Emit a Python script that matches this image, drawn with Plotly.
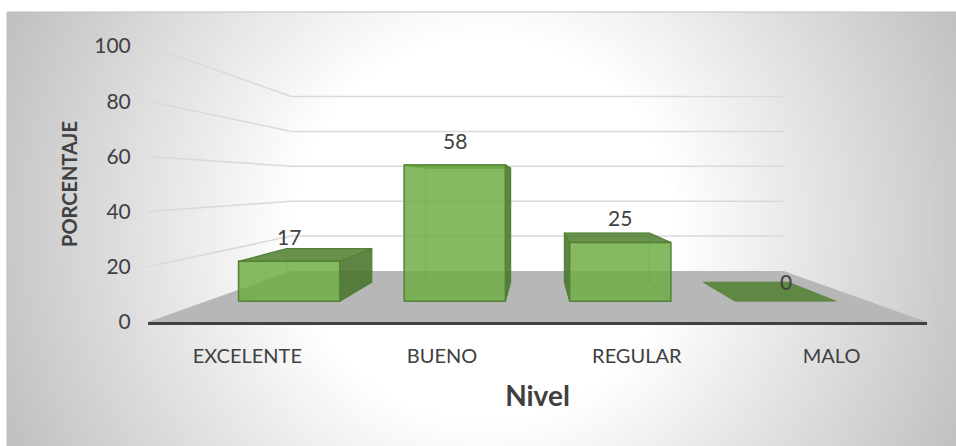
import base64, struct, zlib
import numpy as np
import plotly.graph_objects as go

categories = ["EXCELENTE", "BUENO", "REGULAR", "MALO"]
values = [17, 58, 25, 0]
y_ticks = [0, 20, 40, 60, 80, 100]

WIDTH, HEIGHT = 956, 446
FONT = "Lato"
TEXT = "#404040"
L, R, T, B = 148, 29, 46, 124
PW, PH = WIDTH - L - R, HEIGHT - T - B

# perspective depth: scale of a plane relative to the front edge of the floor
S_FRONT, S_BAR_FRONT, S_BAR_BACK, S_BACK = 1.0, 0.85, 0.713, 0.632
FLOOR_RISE = 18.5   # height of the floor's far edge, in value units
BAR_HALF = 0.306


def project(c, v, s):
    """Category position c, value v, depth scale s -> axis coordinates."""
    rise = (1 - s) / (1 - S_BACK) * FLOOR_RISE
    return 2 + (c - 2) * s, v * s + rise


def poly(points, fill=None, line=None, lw=1.0):
    xs, ys = zip(*[project(*p) for p in points])
    return go.Scatter(
        x=list(xs), y=list(ys), mode="lines", hoverinfo="skip", showlegend=False,
        fill="toself" if fill else None, fillcolor=fill,
        line=dict(color=line or "rgba(0,0,0,0)", width=lw),
    )


def background_png():
    w, h = 240, 112
    xx, yy = np.meshgrid((np.arange(w) + .5) / w * 949 + 7, (np.arange(h) + .5) / h * 434 + 12)
    d = np.hypot(xx - 485, yy - 229)
    g = 255 - 63 * np.clip((d - 195) / 330, 0, 1)
    g = g.astype(np.uint8)
    raw = b"".join(b"\x00" + row.tobytes() for row in g)

    def chunk(tag, data):
        return struct.pack(">I", len(data)) + tag + data + struct.pack(">I", zlib.crc32(tag + data))

    png = b"\x89PNG\r\n\x1a\n" + chunk(b"IHDR", struct.pack(">IIBBBBB", w, h, 8, 0, 0, 0, 0)) \
        + chunk(b"IDAT", zlib.compress(raw)) + chunk(b"IEND", b"")
    return "data:image/png;base64," + base64.b64encode(png).decode()


fig = go.Figure()

# floor
fig.add_trace(poly([(0, 0, S_FRONT), (4, 0, S_FRONT), (4, 0, S_BACK), (0, 0, S_BACK), (0, 0, S_FRONT)],
                   fill="#b7b7b7"))

# gridlines along side wall and back wall
for t in y_ticks[1:]:
    fig.add_trace(poly([(0, t, S_FRONT), (0, t, S_BACK), (4, t, S_BACK)], line="#d9d9d9", lw=1.5))

EDGE = "#548235"
INNER = "rgba(84,130,53,0.35)"
FRONT = "rgba(112,173,71,0.85)"
TOP = "rgba(84,130,53,0.88)"
SIDE = "rgba(72,116,44,0.88)"

for i, v in enumerate(values):
    l, r = i + .5 - BAR_HALF, i + .5 + BAR_HALF
    a, b = S_BAR_FRONT, S_BAR_BACK
    # hidden edges, seen through the translucent front face
    outer = r if r < 2 or l < 2 else l
    inner = l if outer == r else r
    if v > 0:
        fig.add_trace(poly([(l, 0, b), (r, 0, b), (r, v, b), (l, v, b), (l, 0, b)], line=INNER, lw=1.2))
        fig.add_trace(poly([(l, 0, a), (l, 0, b)], line=INNER, lw=1.2))
        fig.add_trace(poly([(r, 0, a), (r, 0, b)], line=INNER, lw=1.2))
        fig.add_trace(poly([(inner, v, a), (inner, v, b)], line=INNER, lw=1.2))
        # outer side wall
        fig.add_trace(poly([(outer, 0, a), (outer, 0, b), (outer, v, b), (outer, v, a), (outer, 0, a)],
                           fill=SIDE, line=EDGE, lw=1.2))
    # top face
    fig.add_trace(poly([(l, v, a), (r, v, a), (r, v, b), (l, v, b), (l, v, a)],
                       fill=TOP, line=EDGE if v > 0 else "rgba(84,130,53,0.6)", lw=1.2))
    # front face
    if v > 0:
        fig.add_trace(poly([(l, 0, a), (r, 0, a), (r, v, a), (l, v, a), (l, 0, a)],
                           fill=FRONT, line=EDGE, lw=1.5))

# value labels
annotations = []
for i, v in enumerate(values):
    x, y = project(i + .5, v, S_BAR_FRONT)
    annotations.append(dict(x=x, y=y, xref="x", yref="y", text=str(v), showarrow=False,
                            xanchor="center", yanchor="middle",
                            yshift=25 if v > 0 else 20, font=dict(family=FONT, size=21, color=TEXT)))

left = (7 - L) / PW
right = (WIDTH - L) / PW
top = (HEIGHT - B - 12) / PH
bottom = -B / PH
fig.update_layout(
    width=WIDTH, height=HEIGHT,
    margin=dict(l=L, r=R, t=T, b=B),
    paper_bgcolor="white", plot_bgcolor="rgba(0,0,0,0)",
    showlegend=False, annotations=annotations,
    font=dict(family=FONT, color=TEXT),
    images=[dict(source=background_png(), xref="paper", yref="paper", layer="below",
                 x=left, y=top, sizex=right - left, sizey=top - bottom,
                 xanchor="left", yanchor="top", sizing="stretch")],
    shapes=[dict(type="line", xref="paper", yref="paper", layer="below",
                 x0=left, x1=right, y0=top, y1=top, line=dict(color="#bfbfbf", width=1)),
            dict(type="line", xref="paper", yref="paper", layer="below",
                 x0=left, x1=left, y0=top, y1=bottom, line=dict(color="#bfbfbf", width=1))],
    xaxis=dict(range=[0, 4], tickmode="array", tickvals=[i + .51 for i in range(4)], ticktext=categories,
               showgrid=False, zeroline=False, showline=True, linecolor="#404040", linewidth=3,
               ticks="outside", ticklen=14, tickcolor="rgba(0,0,0,0)",
               tickfont=dict(family=FONT, size=20, color=TEXT),
               title=dict(text="<b>Nivel</b>", standoff=21, font=dict(family=FONT, size=28, color=TEXT))),
    yaxis=dict(range=[0, 100], tickmode="array", tickvals=y_ticks, showgrid=False, zeroline=False,
               showline=False, ticks="outside", ticklen=12, tickcolor="rgba(0,0,0,0)",
               tickfont=dict(family=FONT, size=21, color=TEXT),
               title=dict(text="<b>PORCENTAJE</b>", standoff=11, font=dict(family=FONT, size=20, color=TEXT))),
)

fig.write_html("out.html", config={"displayModeBar": False},
               post_script="document.body.style.margin='0';")
